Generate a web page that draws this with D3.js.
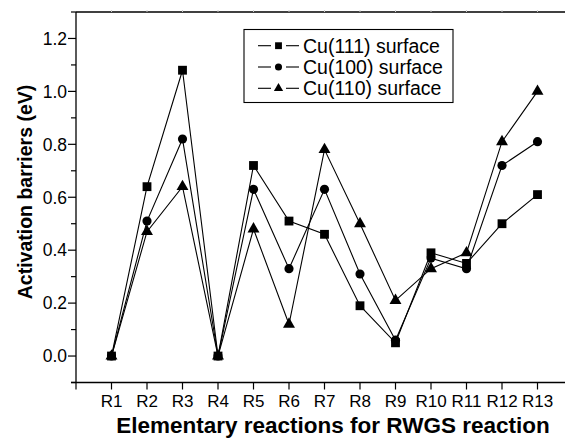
<!DOCTYPE html>
<html>
<head>
<meta charset="utf-8">
<script src="https://cdn.jsdelivr.net/npm/d3@7"></script>
<style>
  body { margin: 0; background: #fff; }
  svg { display: block; font-family: "Liberation Sans", Arial, sans-serif; }
</style>
</head>
<body>
<div id="vis"></div>
<script>
// size of the picture
var width = 565;
var height = 438;

// chart data
var reactions = ["R1", "R2", "R3", "R4", "R5", "R6", "R7", "R8", "R9", "R10", "R11", "R12", "R13"];
var cu111 = [0, 0.64, 1.08, 0, 0.72, 0.51, 0.46, 0.19, 0.05, 0.39, 0.35, 0.50, 0.61];
var cu100 = [0, 0.51, 0.82, 0, 0.63, 0.33, 0.63, 0.31, 0.06, 0.37, 0.33, 0.72, 0.81];
var cu110 = [0, 0.47, 0.64, 0, 0.48, 0.12, 0.78, 0.50, 0.21, 0.33, 0.39, 0.81, 1.00];
var seriesNames = ["Cu(111) surface", "Cu(100) surface", "Cu(110) surface"];
var yTicks = [0, 0.2, 0.4, 0.6, 0.8, 1.0, 1.2];

var series = [
  { name: seriesNames[0], values: cu111, symbol: d3.symbolSquare, size: 78 },
  { name: seriesNames[1], values: cu100, symbol: d3.symbolCircle, size: 66 },
  { name: seriesNames[2], values: cu110, symbol: d3.symbolTriangle, size: 62 }
];

var svg = d3.select("#vis").append("svg")
  .attr("width", width)
  .attr("height", height);

// scales (right edge of frame falls just outside the picture)
var x = d3.scaleLinear().domain([0, reactions.length + 1]).range([76, 573]);
var y = d3.scaleLinear().domain([-0.1, 1.3]).range([382.5, 12]);

// frame
var frame = svg.append("g")
  .attr("stroke", "#000")
  .attr("stroke-width", 1.3)
  .attr("fill", "none");
frame.append("line").attr("x1", x(0)).attr("x2", x(14)).attr("y1", y(1.3)).attr("y2", y(1.3));
frame.append("line").attr("x1", x(0)).attr("x2", x(0)).attr("y1", y(1.3)).attr("y2", y(-0.1));
frame.append("line").attr("x1", x(0) - 5).attr("x2", x(14)).attr("y1", y(-0.1)).attr("y2", y(-0.1));

// y axis ticks
var minor = d3.range(-0.1, 1.31, 0.2);
svg.append("g").selectAll("line.minor")
  .data(minor)
  .enter().append("line")
  .attr("x1", x(0) - 5).attr("x2", x(0))
  .attr("y1", d => y(d)).attr("y2", d => y(d))
  .attr("stroke", "#000").attr("stroke-width", 1.2);

var yAxis = svg.append("g");
yAxis.selectAll("line")
  .data(yTicks)
  .enter().append("line")
  .attr("x1", x(0) - 8).attr("x2", x(0))
  .attr("y1", d => y(d)).attr("y2", d => y(d))
  .attr("stroke", "#000").attr("stroke-width", 1.2);
yAxis.selectAll("text")
  .data(yTicks)
  .enter().append("text")
  .attr("x", x(0) - 9)
  .attr("y", d => y(d))
  .attr("dy", "0.36em")
  .attr("text-anchor", "end")
  .style("font-size", "17.5px")
  .text(d3.format(".1f"));

// x axis ticks
var xAxis = svg.append("g");
xAxis.selectAll("line")
  .data(d3.range(0, reactions.length + 1))
  .enter().append("line")
  .attr("x1", d => x(d)).attr("x2", d => x(d))
  .attr("y1", y(-0.1)).attr("y2", y(-0.1) + 7)
  .attr("stroke", "#000").attr("stroke-width", 1.2);
// faint ticks on the top edge
xAxis.selectAll("line.top")
  .data(d3.range(1, reactions.length + 1))
  .enter().append("line")
  .attr("x1", d => x(d)).attr("x2", d => x(d))
  .attr("y1", y(1.3)).attr("y2", y(1.3) - 2)
  .attr("stroke", "#ccc").attr("stroke-width", 1);
xAxis.selectAll("text")
  .data(reactions)
  .enter().append("text")
  .attr("x", (d, i) => x(i + 1))
  .attr("y", 407)
  .attr("text-anchor", "middle")
  .style("font-size", "17px")
  .text(d => d);

// axis titles
svg.append("text")
  .attr("x", 333)
  .attr("y", 432.5)
  .attr("text-anchor", "middle")
  .style("font-size", "22.5px")
  .style("font-weight", "bold")
  .text("Elementary reactions for RWGS reaction");

svg.append("text")
  .attr("transform", "translate(32," + 192 + ") rotate(-90)")
  .attr("text-anchor", "middle")
  .style("font-size", "19.5px")
  .style("font-weight", "bold")
  .text("Activation barriers (eV)");

// lines
var line = d3.line()
  .x((d, i) => x(i + 1))
  .y(d => y(d));

svg.append("g").selectAll("path")
  .data(series)
  .enter().append("path")
  .attr("d", d => line(d.values))
  .attr("fill", "none")
  .attr("stroke", "#000")
  .attr("stroke-width", 1.1);

// markers
series.forEach(function(s) {
  svg.append("g").selectAll("path")
    .data(s.values)
    .enter().append("path")
    .attr("transform", (d, i) => "translate(" + x(i + 1) + "," + y(d) + ")")
    .attr("d", d3.symbol().type(s.symbol).size(s.size))
    .attr("fill", "#000");
});

// legend
var legend = svg.append("g");
legend.append("rect")
  .attr("x", 244).attr("y", 29.5)
  .attr("width", 209).attr("height", 73)
  .attr("fill", "#fff")
  .attr("stroke", "#000")
  .attr("stroke-width", 1.1);

var rows = legend.selectAll("g.row")
  .data(series)
  .enter().append("g")
  .attr("transform", (d, i) => "translate(0," + (45.7 + i * 21.3) + ")");
rows.append("line")
  .attr("x1", 258).attr("x2", 271)
  .attr("stroke", "#000").attr("stroke-width", 1.1);
rows.append("line")
  .attr("x1", 286).attr("x2", 299)
  .attr("stroke", "#000").attr("stroke-width", 1.1);
rows.append("path")
  .attr("transform", "translate(278.5,0)")
  .attr("d", d => d3.symbol().type(d.symbol).size(d.size * 0.6)())
  .attr("fill", "#000");
rows.append("text")
  .attr("x", 303)
  .attr("dy", "0.36em")
  .style("font-size", "19.5px")
  .text(d => d.name);
</script>
</body>
</html>
